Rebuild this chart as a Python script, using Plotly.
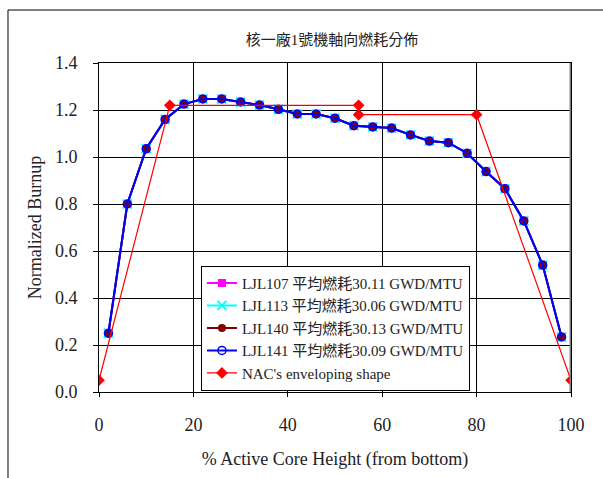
import plotly.graph_objects as go

# Axial position of each node (% active core height from bottom)
height = [2, 6, 10, 14, 18, 22, 26, 30, 34, 38, 42, 46, 50,
          54, 58, 62, 66, 70, 74, 78, 82, 86, 90, 94, 98]

# Normalized burnup per assembly
ljl107 = [0.25, 0.80, 1.035, 1.16, 1.225, 1.247, 1.247, 1.234, 1.221, 1.203, 1.183, 1.183, 1.165,
          1.133, 1.128, 1.123, 1.094, 1.068, 1.061, 1.016, 0.938, 0.865, 0.728, 0.540, 0.234]
ljl113 = [0.25, 0.80, 1.035, 1.16, 1.225, 1.247, 1.247, 1.234, 1.221, 1.203, 1.183, 1.183, 1.165,
          1.133, 1.128, 1.123, 1.094, 1.068, 1.061, 1.016, 0.938, 0.865, 0.728, 0.540, 0.234]
ljl140 = [0.25, 0.80, 1.035, 1.16, 1.225, 1.247, 1.247, 1.234, 1.221, 1.203, 1.183, 1.183, 1.165,
          1.133, 1.128, 1.123, 1.094, 1.068, 1.061, 1.016, 0.938, 0.865, 0.728, 0.540, 0.234]
ljl141 = [0.25, 0.80, 1.035, 1.16, 1.225, 1.247, 1.247, 1.234, 1.221, 1.203, 1.183, 1.183, 1.165,
          1.133, 1.128, 1.123, 1.094, 1.068, 1.061, 1.016, 0.938, 0.865, 0.728, 0.540, 0.234]

# NAC enveloping shape
nac_x = [0, 15, 55, 55, 80, 100]
nac_y = [0.05, 1.22, 1.22, 1.18, 1.18, 0.05]

names = [
    "LJL107 平均燃耗30.11 GWD/MTU",
    "LJL113 平均燃耗30.06 GWD/MTU",
    "LJL140 平均燃耗30.13 GWD/MTU",
    "LJL141 平均燃耗30.09 GWD/MTU",
    "NAC's enveloping shape",
]

FONT = '"Liberation Serif", "Times New Roman", "Noto Sans CJK TC", serif'

fig = go.Figure()
fig.add_trace(go.Scatter(x=height, y=ljl107, name=names[0], mode="lines+markers",
                         line=dict(color="#ff00ff", width=2),
                         marker=dict(symbol="square", size=8, color="#ff00ff")))
fig.add_trace(go.Scatter(x=height, y=ljl113, name=names[1], mode="lines+markers",
                         line=dict(color="#00ffff", width=2),
                         marker=dict(symbol="x-thin", size=9, color="#00ffff",
                                     line=dict(color="#00ffff", width=2))))
fig.add_trace(go.Scatter(x=height, y=ljl140, name=names[2], mode="lines+markers",
                         line=dict(color="#800000", width=2),
                         marker=dict(symbol="circle", size=8, color="#800000")))
fig.add_trace(go.Scatter(x=height, y=ljl141, name=names[3], mode="lines+markers",
                         line=dict(color="#0000ff", width=2),
                         marker=dict(symbol="circle-open", size=8, color="#0000ff",
                                     line=dict(color="#0000ff", width=1.5))))
fig.add_trace(go.Scatter(x=nac_x, y=nac_y, name=names[4], mode="lines+markers",
                         line=dict(color="#ff0000", width=1.2),
                         marker=dict(symbol="diamond", size=9, color="#ff0000")))

fig.update_layout(
    width=603, height=478,
    margin=dict(l=99, r=32, t=63, b=86),
    paper_bgcolor="white", plot_bgcolor="white",
    font=dict(family=FONT, size=15, color="#222222"),
    title=dict(text="核一廠1號機軸向燃耗分佈", x=(332) / 603, xanchor="center",
               y=1 - 40 / 478, yanchor="middle",
               font=dict(family=FONT, size=15, color="#222222")),
    xaxis=dict(range=[0, 100], dtick=20, tick0=0,
               showgrid=True, gridcolor="black", gridwidth=1,
               showline=True, linecolor="black", linewidth=1, mirror=True,
               ticks="outside", ticklen=4, tickcolor="black",
               ticklabelstandoff=12,
               zeroline=False,
               tickfont=dict(size=18),
               title=dict(text="% Active Core Height (from bottom)",
                          font=dict(size=18), standoff=18)),
    yaxis=dict(range=[0, 1.4], dtick=0.2, tick0=0, tickformat=".1f",
               showgrid=True, gridcolor="black", gridwidth=1,
               showline=True, linecolor="black", linewidth=1, mirror=True,
               ticks="outside", ticklen=5, tickcolor="black",
               ticklabelstandoff=12,
               zeroline=False,
               tickfont=dict(size=18),
               title=dict(text="Normalized Burnup", font=dict(size=18), standoff=8)),
    legend=dict(x=0.216, y=0.384, xanchor="left", yanchor="top",
                bgcolor="white", bordercolor="black", borderwidth=1,
                font=dict(size=15), tracegroupgap=0, itemwidth=30),
    showlegend=True,
)

# gray right-hand edge of the plot area
fig.add_shape(type="line", xref="x", yref="paper", x0=100, x1=100, y0=0, y1=1,
              line=dict(color="#808080", width=3), layer="above")

# outer chart frame
fig.add_shape(type="rect", xref="paper", yref="paper",
              x0=-0.1928, x1=1.09, y0=-0.30, y1=1.161,
              line=dict(color="black", width=1), fillcolor="rgba(0,0,0,0)")

fig.write_html("out.html")
